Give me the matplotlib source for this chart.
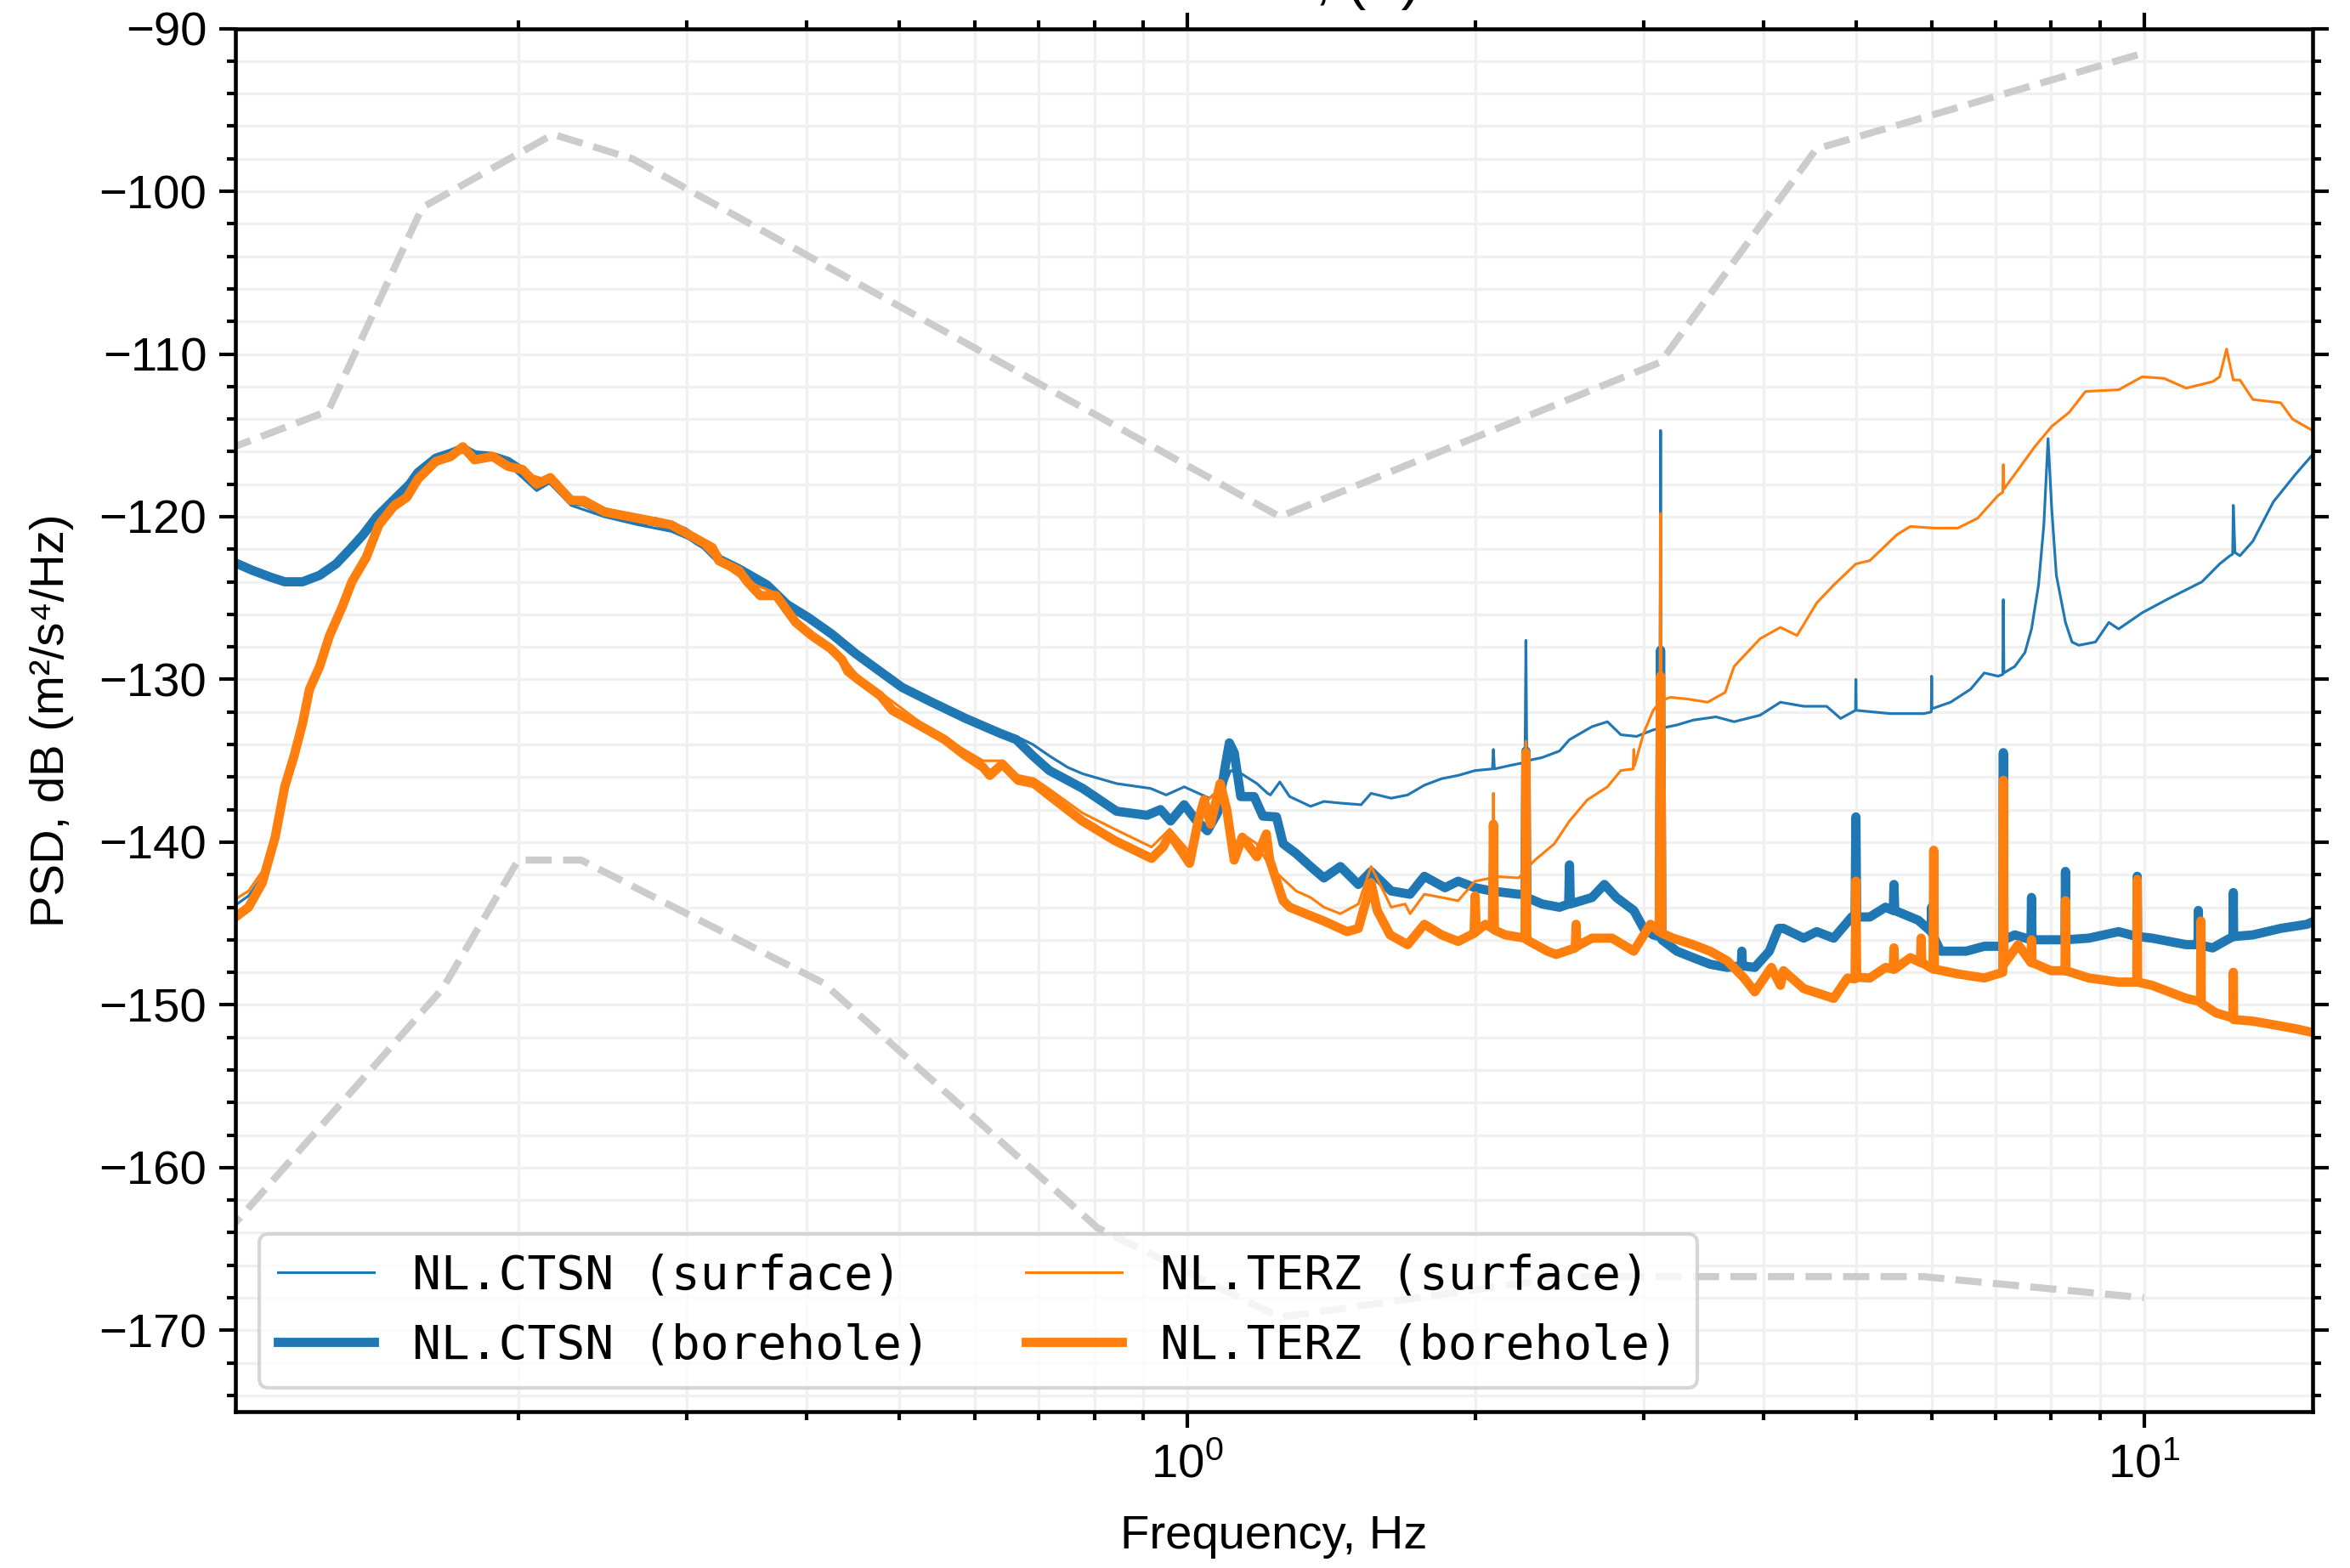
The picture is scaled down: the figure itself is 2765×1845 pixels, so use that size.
"""PSD of vertical component: surface vs borehole stations with Peterson noise models."""
import matplotlib
matplotlib.use("Agg")
import matplotlib.pyplot as plt
from matplotlib.ticker import MultipleLocator, LogLocator

# --- Peterson noise models (dB), breakpoints ---
nhnm_f = [0.0649, 0.1266, 0.1587, 0.2174, 0.2632, 1.25, 3.125, 4.545, 10.0]
nhnm_db = [-120.0, -113.5, -101.0, -96.5, -98.0, -120.0, -110.5, -97.4, -91.5]
nlnm_f = [0.0833, 0.1, 0.1667, 0.2, 0.2326, 0.4167, 0.806, 1.25, 2.5, 5.88, 10.0]
nlnm_db = [-166.25, -163.75, -149.0, -141.1, -141.1, -148.65, -163.7, -169.2,
           -166.7, -166.7, -168.0]

# --- NL.CTSN surface ---
ctsn_surf_f = [0.100, 0.1045, 0.108, 0.1114, 0.114, 0.1166, 0.119, 0.121, 0.124, 0.127,
               0.131, 0.134, 0.1387, 0.143, 0.148, 0.154, 0.160, 0.164, 0.170, 0.175,
               0.182, 0.188, 0.195, 0.202, 0.209, 0.216, 0.227, 0.246, 0.267, 0.289,
               0.308, 0.324, 0.347, 0.364, 0.382, 0.402, 0.425, 0.450, 0.480, 0.504,
               0.541, 0.587, 0.637, 0.663, 0.690, 0.718, 0.75, 0.778, 0.844, 0.916,
               0.951, 0.993, 1.055, 1.095, 1.11, 1.14, 1.183, 1.214, 1.222, 1.25,
               1.28, 1.346, 1.39, 1.446, 1.52, 1.557, 1.634, 1.70, 1.77, 1.845,
               1.92, 2.0, 2.085, 2.09, 2.095, 2.17, 2.255, 2.26, 2.265, 2.35,
               2.45, 2.51, 2.65, 2.75, 2.84, 2.95, 3.07, 3.12, 3.125, 3.13,
               3.25, 3.38, 3.57, 3.73, 3.97, 4.17, 4.41, 4.66, 4.82, 4.995,
               5.0, 5.005, 5.43, 5.89, 5.995, 6.0, 6.005, 6.28, 6.59, 6.81,
               7.04, 7.12, 7.13, 7.14, 7.33, 7.51, 7.63, 7.76, 7.86, 7.94,
               8.01, 8.1, 8.28, 8.41, 8.55, 8.9, 9.19, 9.41, 9.96, 10.6,
               11.5, 12.0, 12.3, 12.38, 12.4, 12.45, 12.6, 13.0, 13.65, 14.4, 15.0]
ctsn_surf_db = [-144.1, -143.3, -142.1, -139.4, -136.4, -134.5, -132.5, -130.4, -129.0, -127.1,
                -125.3, -123.8, -122.3, -120.3, -119.2, -118.2, -117.0, -116.5, -116.3, -116.0,
                -116.6, -116.5, -116.8, -117.6, -118.4, -117.9, -119.3, -120.0, -120.5, -120.9,
                -121.6, -122.9, -123.7, -124.3, -125.6, -126.3, -127.3, -128.5, -129.7, -130.4,
                -131.3, -132.3, -133.2, -133.5, -134.0, -134.7, -135.4, -135.8, -136.4, -136.7,
                -137.1, -136.6, -137.3, -136.5, -135.6, -135.8, -136.4, -137.0, -137.1, -136.3,
                -137.2, -137.8, -137.5, -137.6, -137.7, -137.0, -137.3, -137.1, -136.5, -136.1,
                -135.9, -135.6, -135.5, -134.3, -135.5, -135.3, -135.1, -127.6, -135.0, -134.8,
                -134.4, -133.7, -132.9, -132.6, -133.4, -133.5, -133.1, -133.0, -114.7, -133.0,
                -132.8, -132.5, -132.3, -132.6, -132.2, -131.4, -131.65, -131.65, -132.4, -131.9,
                -130.0, -131.9, -132.1, -132.1, -132.0, -129.8, -131.8, -131.4, -130.6, -129.6,
                -129.8, -129.7, -125.1, -129.6, -129.2, -128.35, -126.9, -124.2, -120.5, -115.2,
                -119.5, -123.6, -126.5, -127.7, -127.9, -127.7, -126.5, -126.9, -125.9, -125.05,
                -124.0, -122.9, -122.4, -122.3, -119.3, -122.2, -122.4, -121.5, -119.1, -117.4, -116.2]

# --- NL.CTSN borehole ---
ctsn_bore_f = [0.100, 0.1055, 0.110, 0.114, 0.119, 0.124, 0.129, 0.1334, 0.1377, 0.1423,
               0.148, 0.154, 0.157, 0.164, 0.170, 0.175, 0.180, 0.188, 0.195, 0.202,
               0.209, 0.216, 0.227, 0.234, 0.246, 0.267, 0.278, 0.289, 0.298, 0.308,
               0.319, 0.324, 0.340, 0.347, 0.364, 0.382, 0.402, 0.425, 0.450, 0.480,
               0.504, 0.541, 0.587, 0.637, 0.663, 0.690, 0.718, 0.778, 0.844, 0.908,
               0.938, 0.961, 0.993, 1.02, 1.05, 1.076, 1.095, 1.107, 1.12, 1.138,
               1.175, 1.20, 1.24, 1.26, 1.30, 1.346, 1.39, 1.446, 1.51, 1.557,
               1.634, 1.71, 1.77, 1.86, 1.92, 2.0, 2.08, 2.22, 2.255, 2.26,
               2.265, 2.35, 2.45, 2.505, 2.51, 2.515, 2.65, 2.73, 2.81, 2.93,
               3.00, 3.07, 3.115, 3.125, 3.135, 3.25, 3.38, 3.52, 3.67, 3.795,
               3.80, 3.805, 3.92, 4.06, 4.15, 4.2, 4.41, 4.55, 4.74, 4.95,
               4.99, 5.0, 5.01, 5.17, 5.37, 5.47, 5.48, 5.49, 5.81, 5.995,
               6.0, 6.005, 6.13, 6.52, 6.81, 7.12, 7.13, 7.14, 7.33, 7.62,
               7.63, 7.64, 8.0, 8.27, 8.28, 8.29, 8.76, 9.41, 9.83, 9.84,
               9.85, 10.2, 11.07, 11.39, 11.4, 11.41, 11.8, 12.39, 12.4, 12.41,
               13.0, 13.9, 14.8, 15.0]
ctsn_bore_db = [-122.7, -123.3, -123.7, -124.0, -124.0, -123.6, -122.9, -122.0, -121.1, -120.0,
                -119.0, -118.0, -117.3, -116.4, -116.1, -115.8, -116.2, -116.3, -116.6, -117.2,
                -118.0, -117.7, -119.0, -119.1, -119.7, -120.2, -120.3, -120.6, -120.9, -121.5,
                -122.0, -122.6, -123.2, -123.5, -124.2, -125.4, -126.2, -127.2, -128.4, -129.6,
                -130.5, -131.4, -132.4, -133.3, -133.7, -134.7, -135.6, -136.7, -138.1, -138.35,
                -138.0, -138.7, -137.7, -138.6, -139.3, -138.2, -135.5, -133.9, -134.5, -137.2,
                -137.2, -138.4, -138.45, -140.1, -140.7, -141.5, -142.2, -141.5, -142.6, -141.8,
                -143.0, -143.2, -142.1, -142.8, -142.4, -142.8, -143.0, -143.2, -143.2, -134.4,
                -143.4, -143.8, -144.0, -143.8, -141.4, -143.8, -143.4, -142.6, -143.4, -144.2,
                -145.3, -145.7, -145.8, -128.2, -146.0, -146.7, -147.1, -147.5, -147.7, -147.6,
                -146.7, -147.6, -147.7, -146.7, -145.3, -145.3, -145.9, -145.5, -145.9, -144.6,
                -144.6, -138.45, -144.6, -144.6, -144.0, -144.2, -142.6, -144.2, -144.8, -145.5,
                -144.0, -145.6, -146.7, -146.7, -146.4, -146.4, -134.5, -146.0, -145.7, -146.0,
                -143.4, -146.0, -146.0, -146.0, -141.8, -146.0, -145.9, -145.5, -145.8, -142.1,
                -145.8, -145.9, -146.3, -146.3, -144.2, -146.3, -146.5, -145.8, -143.1, -145.8,
                -145.7, -145.3, -145.05, -144.9]

# --- NL.TERZ surface ---
terz_surf_f = [0.100, 0.1045, 0.108, 0.1114, 0.114, 0.1166, 0.119, 0.121, 0.124, 0.127,
               0.131, 0.134, 0.1387, 0.143, 0.148, 0.154, 0.157, 0.164, 0.175, 0.180,
               0.188, 0.202, 0.216, 0.227, 0.246, 0.267, 0.289, 0.308, 0.324, 0.347,
               0.372, 0.390, 0.405, 0.436, 0.453, 0.478, 0.528, 0.584, 0.612, 0.641,
               0.666, 0.692, 0.720, 0.777, 0.84, 0.918, 0.959, 1.006, 1.042, 1.083,
               1.12, 1.142, 1.183, 1.22, 1.30, 1.346, 1.39, 1.446, 1.51, 1.557,
               1.61, 1.634, 1.69, 1.71, 1.77, 1.845, 1.92, 2.0, 2.08, 2.085,
               2.09, 2.095, 2.22, 2.255, 2.26, 2.265, 2.31, 2.42, 2.51, 2.62,
               2.75, 2.84, 2.925, 2.93, 2.935, 3.0, 3.07, 3.12, 3.125, 3.13,
               3.2, 3.33, 3.5, 3.65, 3.73, 3.97, 4.17, 4.34, 4.55, 4.74,
               5.0, 5.17, 5.52, 5.7, 6.04, 6.39, 6.7, 7.04, 7.12, 7.13,
               7.14, 7.39, 7.69, 8.01, 8.35, 8.69, 9.41, 9.96, 10.5, 11.07,
               11.8, 12.0, 12.2, 12.4, 12.6, 13.0, 13.9, 14.3, 15.0]
terz_surf_db = [-143.7, -143.0, -141.8, -139.2, -136.2, -134.3, -132.3, -130.2, -128.8, -126.9,
                -125.1, -123.7, -122.2, -120.2, -119.1, -118.5, -117.6, -116.5, -115.8, -116.4,
                -116.3, -117.3, -117.8, -119.0, -119.8, -120.3, -120.6, -121.5, -122.8, -124.0,
                -124.7, -126.3, -127.1, -128.6, -129.8, -130.8, -132.7, -134.3, -135.0, -135.0,
                -135.9, -136.1, -136.8, -138.2, -139.2, -140.3, -139.2, -140.6, -137.6, -136.7,
                -140.2, -139.5, -140.1, -141.5, -143.0, -143.4, -144.0, -144.4, -143.8, -141.5,
                -143.2, -144.0, -143.8, -144.4, -143.2, -143.4, -143.6, -142.4, -142.2, -142.1,
                -137.0, -142.1, -142.2, -141.8, -133.8, -141.6, -141.1, -140.1, -138.7, -137.4,
                -136.6, -135.6, -135.5, -134.3, -135.3, -133.3, -131.9, -131.4, -119.8, -131.3,
                -131.1, -131.2, -131.4, -130.8, -129.2, -127.5, -126.8, -127.3, -125.3, -124.2,
                -122.9, -122.7, -121.1, -120.6, -120.7, -120.7, -120.1, -118.7, -118.5, -116.8,
                -118.3, -117.1, -115.7, -114.45, -113.6, -112.3, -112.2, -111.4, -111.5, -112.1,
                -111.7, -111.4, -109.7, -111.6, -111.6, -112.8, -113.0, -114.0, -114.7]

# --- NL.TERZ borehole ---
terz_bore_f = [0.100, 0.1045, 0.108, 0.1114, 0.114, 0.1166, 0.119, 0.121, 0.124, 0.127,
               0.131, 0.134, 0.1387, 0.143, 0.148, 0.153, 0.157, 0.164, 0.170, 0.175,
               0.180, 0.188, 0.195, 0.202, 0.209, 0.216, 0.227, 0.234, 0.246, 0.267,
               0.289, 0.308, 0.319, 0.324, 0.340, 0.347, 0.358, 0.372, 0.390, 0.405,
               0.424, 0.436, 0.442, 0.453, 0.478, 0.492, 0.528, 0.558, 0.584, 0.612,
               0.622, 0.641, 0.666, 0.692, 0.720, 0.777, 0.84, 0.918, 0.944, 0.959,
               0.98, 1.006, 1.027, 1.042, 1.058, 1.083, 1.10, 1.12, 1.142, 1.183,
               1.21, 1.22, 1.26, 1.28, 1.33, 1.39, 1.47, 1.51, 1.557, 1.58,
               1.63, 1.70, 1.77, 1.845, 1.92, 1.995, 2.0, 2.005, 2.05, 2.085,
               2.09, 2.095, 2.15, 2.255, 2.26, 2.265, 2.28, 2.38, 2.43, 2.545,
               2.55, 2.555, 2.65, 2.78, 2.93, 3.05, 3.115, 3.125, 3.135, 3.22,
               3.38, 3.52, 3.67, 3.82, 3.92, 4.08, 4.17, 4.2, 4.41, 4.74,
               4.9, 4.99, 5.0, 5.01, 5.17, 5.37, 5.47, 5.48, 5.49, 5.7,
               5.84, 5.85, 5.86, 6.02, 6.03, 6.04, 6.39, 6.81, 7.12, 7.13,
               7.14, 7.39, 7.62, 7.63, 7.64, 8.0, 8.27, 8.28, 8.29, 8.76,
               9.41, 9.83, 9.84, 9.85, 10.2, 11.07, 11.46, 11.47, 11.48, 11.9,
               12.39, 12.4, 12.41, 13.0, 13.9, 14.5, 15.0]
terz_bore_db = [-144.85, -144.0, -142.5, -139.7, -136.6, -134.7, -132.7, -130.6, -129.2, -127.3,
                -125.5, -124.0, -122.5, -120.5, -119.4, -118.8, -117.7, -116.6, -116.3, -115.7,
                -116.5, -116.3, -116.9, -117.1, -118.0, -117.6, -119.0, -119.0, -119.7, -120.1,
                -120.5, -121.4, -121.9, -122.7, -123.3, -124.0, -124.85, -124.85, -126.5, -127.3,
                -128.1, -128.8, -129.5, -130.0, -131.0, -131.9, -132.9, -133.7, -134.6, -135.4,
                -135.9, -135.2, -136.2, -136.4, -137.2, -138.7, -139.9, -141.0, -140.3, -139.5,
                -140.3, -141.3, -138.7, -137.4, -138.9, -136.4, -138.0, -141.1, -139.7, -140.9,
                -139.5, -141.1, -143.6, -144.0, -144.4, -144.85, -145.5, -145.3, -142.5, -144.2,
                -145.7, -146.3, -145.05, -145.7, -146.1, -145.6, -143.3, -145.5, -145.05, -145.3,
                -138.9, -145.4, -145.7, -145.9, -134.5, -146.0, -146.1, -146.7, -146.9, -146.5,
                -145.05, -146.4, -145.9, -145.9, -146.7, -145.05, -145.5, -129.8, -145.6, -145.9,
                -146.3, -146.7, -147.3, -148.35, -149.2, -147.7, -148.8, -147.9, -149.0, -149.6,
                -148.35, -148.4, -142.4, -148.3, -148.35, -147.7, -147.8, -146.5, -147.8, -147.1,
                -147.4, -145.9, -147.4, -147.8, -140.5, -147.8, -148.1, -148.35, -148.0, -136.2,
                -147.5, -146.3, -147.4, -146.0, -147.4, -147.9, -147.9, -143.6, -147.9, -148.35,
                -148.6, -148.6, -142.3, -148.6, -148.8, -149.6, -149.8, -144.85, -149.9, -150.5,
                -150.8, -148.0, -150.9, -151.0, -151.3, -151.5, -151.7]

series = [
    ("NL.CTSN (surface)", ctsn_surf_f, ctsn_surf_db, "#1f77b4", 0.75),
    ("NL.CTSN (borehole)", ctsn_bore_f, ctsn_bore_db, "#1f77b4", 2.6),
    ("NL.TERZ (surface)", terz_surf_f, terz_surf_db, "#ff7f0e", 0.75),
    ("NL.TERZ (borehole)", terz_bore_f, terz_bore_db, "#ff7f0e", 2.6),
]

plt.rcParams["font.family"] = ["Liberation Sans", "DejaVu Sans"]
plt.rcParams["font.size"] = 13.5
plt.rcParams["mathtext.fontset"] = "custom"
plt.rcParams["mathtext.rm"] = "Liberation Sans"
plt.rcParams["mathtext.it"] = "Liberation Sans:italic"
plt.rcParams["axes.linewidth"] = 1.1

fig, ax = plt.subplots(figsize=(2765 / 300, 1845 / 300), dpi=300)
fig.subplots_adjust(left=0.1001, right=0.984, bottom=0.0997, top=0.9818)

ax.plot(nhnm_f, nhnm_db, color="#cccccc", lw=2.0, ls="--", zorder=1)
ax.plot(nlnm_f, nlnm_db, color="#cccccc", lw=2.0, ls="--", zorder=1)
for label, f, db, color, lw in series:
    ax.plot(f, db, color=color, lw=lw, label=label, zorder=2)

ax.set_xscale("log")
ax.set_xlim(0.1012, 15)
ax.set_ylim(-175, -90)
ax.yaxis.set_major_locator(MultipleLocator(10))
ax.yaxis.set_minor_locator(MultipleLocator(2))
ax.xaxis.set_minor_locator(LogLocator(base=10, subs=range(2, 10)))

ax.set_axisbelow(True)
ax.grid(which="both", color="#f0f0f0", lw=0.8)
ax.tick_params(which="both", direction="out", top=True, right=True, width=1.0)
ax.tick_params(which="major", length=4.5)
ax.tick_params(which="minor", length=2.5)
ax.tick_params(axis="x", which="major", pad=4.5)

ax.set_xlabel("Frequency, Hz", labelpad=7.5)
ax.set_ylabel("PSD, dB (m²/s⁴/Hz)", labelpad=7)
# title sits mostly above the canvas, as in the original export
ax.set_title("Vertical, (Z)", pad=8.5)

leg = ax.legend(loc="lower left", ncol=2, prop={"family": "DejaVu Sans Mono", "size": 13.5},
                framealpha=0.8, edgecolor="#cccccc", fancybox=True)
leg.get_frame().set_linewidth(1.0)

fig.savefig("out.png", dpi=300)
